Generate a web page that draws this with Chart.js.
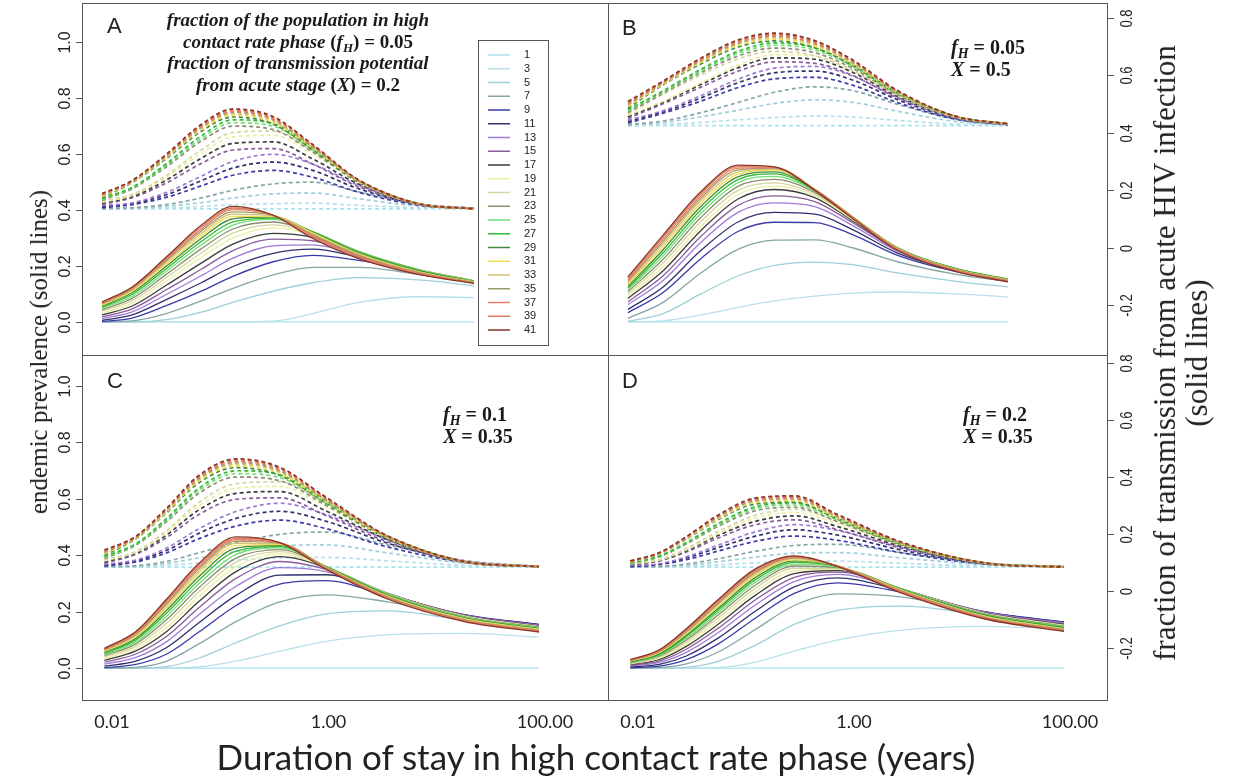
<!DOCTYPE html>
<html>
<head>
<meta charset="utf-8">
<title>Endemic prevalence and acute-stage transmission</title>
<script src="https://cdn.jsdelivr.net/npm/chart.js@4/dist/chart.umd.min.js"></script>
<style>
  body { margin: 0; background: #fff; }
  #wrap { position: relative; width: 1237px; height: 782px; overflow: hidden; }
  #wrap canvas { position: absolute; left: 0; top: 0; }
  .ttl { position: absolute; white-space: nowrap; color: #222; }
  #ylab { left: 39px; top: 352px; font: 25px "Liberation Serif", serif; transform: translate(-50%, -50%) rotate(-90deg); }
  #y2lab { left: 1181px; top: 353px; font: 31px/32px "Liberation Serif", serif; text-align: center; transform: translate(-50%, -50%) rotate(-90deg); }
  #xlab { left: 596px; top: 756px; font: 35px Lato, sans-serif; transform: translate(-50%, -50%); }
</style>
</head>
<body>
<div id="wrap">
  <canvas id="panelA" width="1237" height="782"></canvas>
  <canvas id="panelB" width="1237" height="782"></canvas>
  <canvas id="panelC" width="1237" height="782"></canvas>
  <canvas id="panelD" width="1237" height="782"></canvas>
  <div class="ttl" id="ylab">endemic prevalence (solid lines)</div>
  <div class="ttl" id="y2lab">fraction of transmission from acute HIV infection<br>(solid lines)</div>
  <div class="ttl" id="xlab">Duration of stay in high contact rate phase (years)</div>
</div>
<script>
// durations (years) at which each panel's curves are sampled
const durationsA = [0.0085, 0.018, 0.042, 0.1, 0.22, 0.6, 1.6, 5, 22, 88];
const durationsB = [0.0085, 0.02, 0.05, 0.125, 0.3, 0.8, 2, 6, 25, 88];
const durationsC = [0.0085, 0.0166, 0.032, 0.063, 0.14, 0.355, 0.95, 3.5, 18, 88];
const durationsD = [0.0085, 0.0158, 0.028, 0.056, 0.12, 0.28, 0.71, 2.8, 16, 88];

const seriesLabels = ['1', '3', '5', '7', '9', '11', '13', '15', '17', '19', '21',
  '23', '25', '27', '29', '31', '33', '35', '37', '39', '41'];
const seriesColors = ['#a8e4ee', '#b8e0ea', '#9fcfd8', '#86a6a6', '#3a3aa8', '#30306e',
  '#a07ad8', '#8a5c9a', '#3c3c3c', '#eeeea0', '#d2d6a0', '#8c8c70', '#70e070', '#38b838',
  '#3c8a3c', '#f0e050', '#d8c070', '#9c9c68', '#f07a68', '#d8805a', '#8a3626'];

const leftTicks = [0, 0.2, 0.4, 0.6, 0.8, 1.0];
const rightTicks = [-0.2, 0, 0.2, 0.4, 0.6, 0.8];
const xTicks = [0.01, 1, 100];

// endemic prevalence (solid), one row per series
const prevalenceA = [
  [0, 0, 0, 0, 0, 0, 0, 0, 0, 0],
  [0, 0, 0, 0, 0, 0.003, 0.03, 0.07, 0.09, 0.087],
  [0, 0, 0.008, 0.035, 0.07, 0.11, 0.14, 0.158, 0.15, 0.13],
  [0, 0.004, 0.03, 0.075, 0.12, 0.168, 0.195, 0.195, 0.17, 0.142],
  [0.002, 0.014, 0.058, 0.11, 0.163, 0.215, 0.238, 0.22, 0.18, 0.145],
  [0.006, 0.025, 0.08, 0.14, 0.198, 0.245, 0.26, 0.232, 0.183, 0.146],
  [0.012, 0.036, 0.098, 0.165, 0.228, 0.272, 0.275, 0.238, 0.185, 0.146],
  [0.018, 0.047, 0.115, 0.188, 0.255, 0.296, 0.29, 0.243, 0.186, 0.147],
  [0.025, 0.057, 0.131, 0.21, 0.278, 0.316, 0.302, 0.247, 0.187, 0.147],
  [0.032, 0.067, 0.146, 0.23, 0.3, 0.336, 0.313, 0.25, 0.188, 0.147],
  [0.038, 0.076, 0.158, 0.246, 0.317, 0.347, 0.318, 0.251, 0.188, 0.147],
  [0.044, 0.084, 0.17, 0.261, 0.332, 0.357, 0.321, 0.252, 0.187, 0.146],
  [0.049, 0.092, 0.181, 0.275, 0.346, 0.366, 0.323, 0.251, 0.186, 0.146],
  [0.053, 0.099, 0.19, 0.287, 0.357, 0.371, 0.322, 0.249, 0.184, 0.145],
  [0.057, 0.105, 0.199, 0.298, 0.368, 0.375, 0.32, 0.247, 0.182, 0.144],
  [0.06, 0.11, 0.206, 0.307, 0.377, 0.377, 0.318, 0.244, 0.18, 0.143],
  [0.063, 0.114, 0.213, 0.316, 0.385, 0.379, 0.315, 0.241, 0.178, 0.142],
  [0.065, 0.118, 0.219, 0.324, 0.393, 0.38, 0.311, 0.238, 0.176, 0.141],
  [0.067, 0.121, 0.224, 0.331, 0.401, 0.381, 0.307, 0.234, 0.174, 0.14],
  [0.069, 0.123, 0.228, 0.338, 0.407, 0.381, 0.303, 0.23, 0.172, 0.139],
  [0.071, 0.125, 0.232, 0.345, 0.413, 0.381, 0.298, 0.226, 0.17, 0.138]
];
const prevalenceB = [
  [0, 0, 0, 0, 0, 0, 0, 0, 0, 0],
  [0, 0.004, 0.025, 0.052, 0.075, 0.092, 0.103, 0.107, 0.1, 0.089],
  [0.002, 0.03, 0.1, 0.165, 0.202, 0.214, 0.205, 0.175, 0.145, 0.125],
  [0.013, 0.07, 0.175, 0.26, 0.292, 0.293, 0.265, 0.215, 0.17, 0.145],
  [0.033, 0.105, 0.226, 0.324, 0.356, 0.355, 0.312, 0.238, 0.18, 0.149],
  [0.045, 0.125, 0.255, 0.358, 0.391, 0.385, 0.33, 0.246, 0.183, 0.15],
  [0.062, 0.148, 0.284, 0.392, 0.425, 0.412, 0.345, 0.253, 0.186, 0.151],
  [0.072, 0.165, 0.305, 0.417, 0.45, 0.43, 0.355, 0.257, 0.188, 0.152],
  [0.084, 0.183, 0.326, 0.44, 0.473, 0.444, 0.362, 0.26, 0.189, 0.153],
  [0.092, 0.197, 0.342, 0.456, 0.485, 0.451, 0.366, 0.262, 0.19, 0.153],
  [0.1, 0.211, 0.358, 0.471, 0.497, 0.457, 0.369, 0.263, 0.19, 0.153],
  [0.108, 0.224, 0.373, 0.485, 0.509, 0.463, 0.372, 0.264, 0.19, 0.153],
  [0.115, 0.236, 0.387, 0.498, 0.52, 0.468, 0.374, 0.265, 0.19, 0.153],
  [0.121, 0.247, 0.4, 0.509, 0.529, 0.471, 0.375, 0.265, 0.19, 0.152],
  [0.127, 0.258, 0.412, 0.519, 0.536, 0.473, 0.376, 0.265, 0.189, 0.151],
  [0.133, 0.268, 0.423, 0.528, 0.542, 0.474, 0.376, 0.264, 0.188, 0.15],
  [0.139, 0.278, 0.433, 0.536, 0.546, 0.474, 0.376, 0.263, 0.187, 0.149],
  [0.145, 0.287, 0.442, 0.543, 0.549, 0.474, 0.375, 0.262, 0.186, 0.148],
  [0.15, 0.295, 0.45, 0.549, 0.551, 0.473, 0.374, 0.26, 0.184, 0.147],
  [0.156, 0.303, 0.458, 0.555, 0.553, 0.472, 0.372, 0.258, 0.182, 0.145],
  [0.161, 0.31, 0.465, 0.56, 0.554, 0.47, 0.37, 0.255, 0.18, 0.143]
];
const prevalenceC = [
  [0, 0, 0, 0, 0, 0, 0, 0, 0, 0],
  [0, 0, 0, 0.004, 0.025, 0.06, 0.095, 0.118, 0.123, 0.11],
  [0, 0, 0.005, 0.035, 0.09, 0.15, 0.192, 0.203, 0.17, 0.14],
  [0, 0.003, 0.025, 0.085, 0.165, 0.235, 0.26, 0.235, 0.185, 0.15],
  [0.002, 0.013, 0.05, 0.127, 0.222, 0.298, 0.31, 0.256, 0.19, 0.155],
  [0.007, 0.025, 0.073, 0.16, 0.258, 0.33, 0.331, 0.262, 0.189, 0.154],
  [0.014, 0.038, 0.094, 0.188, 0.29, 0.356, 0.342, 0.264, 0.188, 0.152],
  [0.021, 0.05, 0.113, 0.213, 0.318, 0.378, 0.35, 0.265, 0.187, 0.15],
  [0.028, 0.061, 0.13, 0.235, 0.342, 0.395, 0.356, 0.266, 0.186, 0.148],
  [0.034, 0.07, 0.145, 0.253, 0.36, 0.405, 0.358, 0.265, 0.185, 0.147],
  [0.039, 0.078, 0.159, 0.269, 0.376, 0.413, 0.359, 0.264, 0.183, 0.146],
  [0.044, 0.086, 0.172, 0.284, 0.39, 0.42, 0.36, 0.263, 0.182, 0.145],
  [0.048, 0.093, 0.184, 0.298, 0.403, 0.426, 0.36, 0.262, 0.18, 0.143],
  [0.052, 0.1, 0.195, 0.311, 0.415, 0.431, 0.36, 0.26, 0.178, 0.141],
  [0.056, 0.106, 0.205, 0.323, 0.425, 0.435, 0.359, 0.258, 0.177, 0.14],
  [0.059, 0.111, 0.214, 0.333, 0.434, 0.438, 0.358, 0.256, 0.175, 0.138],
  [0.062, 0.116, 0.222, 0.342, 0.442, 0.441, 0.357, 0.254, 0.173, 0.136],
  [0.064, 0.12, 0.229, 0.35, 0.449, 0.443, 0.356, 0.252, 0.171, 0.134],
  [0.066, 0.124, 0.235, 0.357, 0.455, 0.444, 0.354, 0.25, 0.169, 0.132],
  [0.068, 0.127, 0.24, 0.364, 0.46, 0.445, 0.352, 0.248, 0.167, 0.13],
  [0.07, 0.13, 0.245, 0.37, 0.465, 0.445, 0.35, 0.245, 0.165, 0.128]
];
const prevalenceD = [
  [0, 0, 0, 0, 0, 0, 0, 0, 0, 0],
  [0, 0, 0, 0.002, 0.02, 0.06, 0.1, 0.135, 0.148, 0.138],
  [0, 0, 0.003, 0.025, 0.08, 0.155, 0.205, 0.22, 0.188, 0.158],
  [0, 0.002, 0.015, 0.058, 0.135, 0.222, 0.263, 0.252, 0.197, 0.163],
  [0.001, 0.007, 0.03, 0.087, 0.175, 0.265, 0.302, 0.268, 0.2, 0.164],
  [0.004, 0.013, 0.043, 0.108, 0.2, 0.288, 0.32, 0.274, 0.2, 0.162],
  [0.007, 0.02, 0.056, 0.127, 0.222, 0.307, 0.332, 0.277, 0.199, 0.16],
  [0.01, 0.026, 0.067, 0.143, 0.24, 0.322, 0.34, 0.279, 0.198, 0.157],
  [0.013, 0.031, 0.077, 0.157, 0.256, 0.335, 0.346, 0.28, 0.196, 0.154],
  [0.015, 0.035, 0.085, 0.169, 0.269, 0.345, 0.35, 0.28, 0.195, 0.152],
  [0.017, 0.039, 0.093, 0.18, 0.281, 0.354, 0.353, 0.28, 0.193, 0.15],
  [0.019, 0.043, 0.1, 0.19, 0.292, 0.362, 0.356, 0.28, 0.192, 0.148],
  [0.021, 0.046, 0.106, 0.199, 0.302, 0.369, 0.358, 0.279, 0.19, 0.146],
  [0.022, 0.049, 0.112, 0.207, 0.311, 0.375, 0.36, 0.278, 0.189, 0.144],
  [0.024, 0.052, 0.117, 0.214, 0.319, 0.38, 0.361, 0.277, 0.187, 0.142],
  [0.025, 0.055, 0.122, 0.221, 0.326, 0.384, 0.362, 0.276, 0.185, 0.14],
  [0.026, 0.057, 0.126, 0.227, 0.332, 0.388, 0.362, 0.274, 0.183, 0.138],
  [0.027, 0.059, 0.13, 0.232, 0.337, 0.391, 0.362, 0.272, 0.181, 0.136],
  [0.028, 0.061, 0.134, 0.237, 0.342, 0.394, 0.362, 0.27, 0.179, 0.134],
  [0.029, 0.063, 0.137, 0.241, 0.346, 0.396, 0.361, 0.268, 0.177, 0.132],
  [0.03, 0.065, 0.14, 0.245, 0.35, 0.398, 0.36, 0.265, 0.175, 0.13]
];

// fraction of transmission from acute infection (dashed, right axis)
const acuteA = [
  [0.135, 0.135, 0.135, 0.135, 0.135, 0.135, 0.135, 0.135, 0.135, 0.135],
  [0.135, 0.136, 0.138, 0.143, 0.149, 0.153, 0.155, 0.147, 0.139, 0.135],
  [0.135, 0.137, 0.144, 0.157, 0.173, 0.187, 0.19, 0.17, 0.145, 0.136],
  [0.136, 0.139, 0.15, 0.173, 0.2, 0.222, 0.228, 0.194, 0.152, 0.137],
  [0.139, 0.15, 0.175, 0.215, 0.252, 0.269, 0.245, 0.193, 0.148, 0.136],
  [0.143, 0.153, 0.184, 0.233, 0.277, 0.298, 0.269, 0.205, 0.151, 0.137],
  [0.147, 0.156, 0.192, 0.249, 0.3, 0.325, 0.291, 0.217, 0.154, 0.137],
  [0.151, 0.174, 0.225, 0.293, 0.34, 0.345, 0.291, 0.212, 0.15, 0.135],
  [0.155, 0.178, 0.235, 0.311, 0.363, 0.368, 0.309, 0.221, 0.152, 0.135],
  [0.158, 0.182, 0.245, 0.328, 0.386, 0.391, 0.326, 0.229, 0.153, 0.135],
  [0.162, 0.185, 0.251, 0.34, 0.401, 0.406, 0.337, 0.235, 0.154, 0.135],
  [0.165, 0.205, 0.281, 0.371, 0.423, 0.411, 0.333, 0.228, 0.152, 0.135],
  [0.168, 0.208, 0.287, 0.38, 0.435, 0.423, 0.341, 0.232, 0.153, 0.135],
  [0.171, 0.21, 0.292, 0.389, 0.445, 0.432, 0.348, 0.235, 0.154, 0.135],
  [0.174, 0.226, 0.31, 0.405, 0.455, 0.43, 0.341, 0.228, 0.152, 0.135],
  [0.177, 0.228, 0.314, 0.411, 0.462, 0.436, 0.346, 0.23, 0.152, 0.135],
  [0.18, 0.229, 0.316, 0.416, 0.467, 0.441, 0.349, 0.231, 0.152, 0.135],
  [0.182, 0.231, 0.319, 0.42, 0.472, 0.446, 0.352, 0.233, 0.153, 0.135],
  [0.184, 0.232, 0.321, 0.422, 0.475, 0.448, 0.354, 0.234, 0.153, 0.135],
  [0.186, 0.233, 0.323, 0.426, 0.479, 0.452, 0.357, 0.235, 0.153, 0.135],
  [0.188, 0.234, 0.325, 0.429, 0.483, 0.456, 0.359, 0.236, 0.153, 0.135]
];
const acuteB = [
  [0.425, 0.425, 0.425, 0.425, 0.425, 0.425, 0.425, 0.425, 0.425, 0.425],
  [0.425, 0.429, 0.436, 0.445, 0.453, 0.458, 0.455, 0.443, 0.43, 0.426],
  [0.426, 0.436, 0.455, 0.479, 0.502, 0.515, 0.506, 0.475, 0.439, 0.428],
  [0.429, 0.441, 0.47, 0.506, 0.541, 0.56, 0.547, 0.499, 0.447, 0.429],
  [0.434, 0.468, 0.51, 0.558, 0.588, 0.593, 0.566, 0.505, 0.447, 0.428],
  [0.439, 0.473, 0.521, 0.575, 0.609, 0.615, 0.584, 0.515, 0.45, 0.429],
  [0.444, 0.477, 0.529, 0.587, 0.625, 0.631, 0.598, 0.523, 0.452, 0.429],
  [0.45, 0.501, 0.559, 0.615, 0.647, 0.642, 0.6, 0.521, 0.452, 0.429],
  [0.456, 0.506, 0.568, 0.627, 0.661, 0.656, 0.611, 0.527, 0.454, 0.43],
  [0.461, 0.51, 0.574, 0.637, 0.672, 0.667, 0.619, 0.532, 0.455, 0.43],
  [0.466, 0.534, 0.601, 0.658, 0.684, 0.668, 0.617, 0.529, 0.453, 0.43],
  [0.471, 0.538, 0.609, 0.668, 0.695, 0.679, 0.625, 0.533, 0.455, 0.43],
  [0.476, 0.543, 0.615, 0.677, 0.705, 0.688, 0.632, 0.537, 0.456, 0.431],
  [0.481, 0.546, 0.621, 0.684, 0.713, 0.696, 0.638, 0.54, 0.457, 0.431],
  [0.486, 0.567, 0.64, 0.699, 0.72, 0.696, 0.634, 0.537, 0.455, 0.431],
  [0.491, 0.569, 0.645, 0.705, 0.726, 0.702, 0.639, 0.539, 0.455, 0.431],
  [0.495, 0.572, 0.648, 0.71, 0.731, 0.707, 0.642, 0.541, 0.456, 0.431],
  [0.499, 0.574, 0.652, 0.714, 0.736, 0.711, 0.646, 0.543, 0.456, 0.431],
  [0.503, 0.576, 0.654, 0.717, 0.739, 0.714, 0.648, 0.544, 0.456, 0.431],
  [0.506, 0.578, 0.657, 0.721, 0.743, 0.718, 0.651, 0.546, 0.457, 0.431],
  [0.509, 0.58, 0.66, 0.724, 0.747, 0.721, 0.654, 0.547, 0.457, 0.431]
];
const acuteC = [
  [0.084, 0.084, 0.084, 0.084, 0.084, 0.084, 0.084, 0.084, 0.084, 0.084],
  [0.084, 0.085, 0.09, 0.098, 0.108, 0.116, 0.118, 0.106, 0.09, 0.085],
  [0.085, 0.087, 0.097, 0.116, 0.138, 0.158, 0.162, 0.134, 0.098, 0.086],
  [0.086, 0.089, 0.104, 0.134, 0.169, 0.199, 0.207, 0.162, 0.107, 0.087],
  [0.088, 0.102, 0.134, 0.183, 0.228, 0.249, 0.219, 0.155, 0.101, 0.086],
  [0.091, 0.106, 0.143, 0.202, 0.255, 0.28, 0.245, 0.168, 0.104, 0.086],
  [0.094, 0.109, 0.151, 0.218, 0.279, 0.308, 0.268, 0.18, 0.106, 0.086],
  [0.098, 0.129, 0.188, 0.268, 0.322, 0.327, 0.265, 0.173, 0.101, 0.085],
  [0.102, 0.133, 0.197, 0.284, 0.343, 0.349, 0.281, 0.181, 0.103, 0.085],
  [0.106, 0.136, 0.205, 0.298, 0.361, 0.367, 0.295, 0.188, 0.104, 0.086],
  [0.11, 0.139, 0.212, 0.31, 0.377, 0.383, 0.307, 0.194, 0.105, 0.086],
  [0.114, 0.161, 0.244, 0.342, 0.4, 0.387, 0.301, 0.186, 0.103, 0.086],
  [0.118, 0.163, 0.25, 0.352, 0.412, 0.398, 0.309, 0.19, 0.104, 0.086],
  [0.122, 0.166, 0.255, 0.36, 0.422, 0.408, 0.316, 0.193, 0.104, 0.086],
  [0.126, 0.183, 0.275, 0.379, 0.433, 0.406, 0.309, 0.185, 0.102, 0.086],
  [0.13, 0.185, 0.278, 0.385, 0.44, 0.412, 0.313, 0.187, 0.103, 0.086],
  [0.133, 0.187, 0.282, 0.39, 0.446, 0.418, 0.317, 0.189, 0.103, 0.086],
  [0.136, 0.188, 0.284, 0.394, 0.451, 0.422, 0.32, 0.19, 0.103, 0.086],
  [0.139, 0.19, 0.287, 0.398, 0.456, 0.427, 0.324, 0.192, 0.103, 0.086],
  [0.142, 0.191, 0.289, 0.402, 0.46, 0.431, 0.326, 0.193, 0.104, 0.086],
  [0.144, 0.192, 0.291, 0.405, 0.464, 0.434, 0.329, 0.194, 0.104, 0.086]
];
const acuteD = [
  [0.084, 0.084, 0.084, 0.084, 0.084, 0.084, 0.084, 0.084, 0.084, 0.084],
  [0.084, 0.085, 0.087, 0.092, 0.099, 0.104, 0.105, 0.097, 0.088, 0.084],
  [0.084, 0.086, 0.091, 0.103, 0.119, 0.133, 0.135, 0.116, 0.093, 0.085],
  [0.085, 0.086, 0.095, 0.114, 0.139, 0.16, 0.164, 0.134, 0.098, 0.086],
  [0.086, 0.093, 0.11, 0.141, 0.174, 0.193, 0.178, 0.134, 0.095, 0.085],
  [0.088, 0.095, 0.116, 0.153, 0.192, 0.215, 0.196, 0.143, 0.097, 0.085],
  [0.09, 0.096, 0.12, 0.162, 0.207, 0.233, 0.212, 0.152, 0.099, 0.086],
  [0.092, 0.106, 0.137, 0.187, 0.232, 0.25, 0.215, 0.15, 0.097, 0.086],
  [0.094, 0.107, 0.142, 0.196, 0.244, 0.264, 0.226, 0.156, 0.098, 0.086],
  [0.095, 0.109, 0.145, 0.203, 0.255, 0.276, 0.236, 0.161, 0.099, 0.086],
  [0.096, 0.11, 0.149, 0.21, 0.265, 0.287, 0.244, 0.165, 0.1, 0.086],
  [0.097, 0.12, 0.165, 0.228, 0.281, 0.294, 0.243, 0.16, 0.099, 0.084],
  [0.098, 0.121, 0.168, 0.234, 0.289, 0.302, 0.249, 0.163, 0.099, 0.084],
  [0.099, 0.123, 0.17, 0.238, 0.295, 0.309, 0.254, 0.166, 0.1, 0.084],
  [0.1, 0.131, 0.182, 0.252, 0.305, 0.312, 0.252, 0.163, 0.098, 0.084],
  [0.101, 0.132, 0.184, 0.255, 0.31, 0.317, 0.255, 0.165, 0.098, 0.084],
  [0.102, 0.132, 0.186, 0.258, 0.314, 0.321, 0.258, 0.166, 0.099, 0.084],
  [0.103, 0.133, 0.187, 0.261, 0.318, 0.325, 0.261, 0.168, 0.099, 0.084],
  [0.104, 0.134, 0.189, 0.263, 0.321, 0.328, 0.263, 0.169, 0.099, 0.084],
  [0.105, 0.134, 0.19, 0.265, 0.323, 0.331, 0.265, 0.17, 0.099, 0.084],
  [0.106, 0.135, 0.191, 0.268, 0.326, 0.334, 0.268, 0.171, 0.099, 0.084]
];

const SERIF = '"Liberation Serif", serif';

// rich text: [text, style]  i = bold italic, r = bold upright, s = italic subscript
function drawRich(ctx, segs, x, y, size, align) {
  const fontOf = s => (s === 'r' ? 'bold ' : 'italic bold ') +
    (s === 's' ? Math.round(size * 0.68) : size) + 'px ' + SERIF;
  let w = 0;
  segs.forEach(([t, s]) => { ctx.font = fontOf(s); w += ctx.measureText(t).width; });
  let cx = align === 'center' ? x - w / 2 : x;
  ctx.textAlign = 'left';
  ctx.textBaseline = 'alphabetic';
  segs.forEach(([t, s]) => {
    ctx.font = fontOf(s);
    ctx.fillText(t, cx, s === 's' ? y + size * 0.22 : y);
    cx += ctx.measureText(t).width;
  });
}

const panelFrame = {
  id: 'panelFrame',
  afterDraw(chart, args, o) {
    const { ctx, chartArea: a, scales } = chart;
    ctx.save();
    ctx.strokeStyle = '#555';
    ctx.lineWidth = 1;
    ctx.strokeRect(Math.round(a.left) + 0.5, Math.round(a.top) + 0.5,
      Math.round(a.right - a.left), Math.round(a.bottom - a.top));
    ctx.fillStyle = '#222';

    if (o.left) {
      ctx.font = '16px "Liberation Sans", Arial, sans-serif';
      leftTicks.forEach(v => {
        const y = Math.round(scales.y.getPixelForValue(v)) + 0.5;
        ctx.beginPath(); ctx.moveTo(a.left, y); ctx.lineTo(a.left - 6, y); ctx.stroke();
        ctx.save(); ctx.translate(a.left - 8, y); ctx.rotate(-Math.PI / 2);
        ctx.textAlign = 'center'; ctx.textBaseline = 'bottom';
        ctx.fillText(v.toFixed(1), 0, 0); ctx.restore();
      });
    }
    if (o.right) {
      // condensed labels on the right-hand axis
      ctx.font = '16px "Liberation Sans Narrow", "Liberation Sans", sans-serif';
      rightTicks.forEach(v => {
        const y = Math.round(scales.y2.getPixelForValue(v)) + 0.5;
        ctx.beginPath(); ctx.moveTo(a.right, y); ctx.lineTo(a.right + 7, y); ctx.stroke();
        ctx.save(); ctx.translate(a.right + 13, y); ctx.rotate(-Math.PI / 2); ctx.scale(0.82, 1);
        ctx.textAlign = 'center'; ctx.textBaseline = 'top';
        ctx.fillText(v === 0 ? '0' : String(v), 0, 0); ctx.restore();
      });
    }
    if (o.bottom) {
      ctx.font = '18px Lato, sans-serif';
      ctx.textAlign = 'center'; ctx.textBaseline = 'middle';
      xTicks.forEach(v => {
        ctx.fillText(v.toFixed(2), scales.x.getPixelForValue(v), a.bottom + 22);
      });
    }

    // panel letter
    ctx.font = '22px "Liberation Sans", Arial, sans-serif';
    ctx.textAlign = 'left'; ctx.textBaseline = 'alphabetic';
    ctx.fillText(o.letter[0], a.left + o.letter[1], a.top + o.letter[2]);

    // parameter notes
    ctx.fillStyle = '#1a1a1a';
    o.notes.forEach(n => drawRich(ctx, n.segs, a.left + n.dx, a.top + n.dy, n.size, n.align));

    // legend box with the series colours
    if (o.legend) {
      const lx = a.left + o.legend.dx, ly = a.top + o.legend.dy;
      const w = 70, h = 305;
      ctx.strokeStyle = '#555';
      ctx.strokeRect(Math.round(lx) + 0.5, Math.round(ly) + 0.5, w, h);
      ctx.font = '11px "Liberation Sans", Arial, sans-serif';
      ctx.textBaseline = 'middle';
      const solid = chart.data.datasets.filter(d => !d.borderDash);
      solid.forEach((d, i) => {
        const y = ly + 15 + i * 13.75;
        ctx.strokeStyle = d.borderColor; ctx.lineWidth = 1.5;
        ctx.beginPath(); ctx.moveTo(lx + 10, y); ctx.lineTo(lx + 32, y); ctx.stroke();
        ctx.fillStyle = '#222';
        ctx.fillText(d.label, lx + 46, y);
      });
    }
    ctx.restore();
  }
};

function makePanel(id, p) {
  const datasets = [];
  seriesLabels.forEach((lab, i) => {
    datasets.push({
      label: lab, yAxisID: 'y', borderColor: seriesColors[i], borderWidth: 1.3,
      order: 20 - i,
      data: p.prevalence[i].map((v, j) => ({ x: p.durations[j], y: v }))
    });
  });
  seriesLabels.forEach((lab, i) => {
    datasets.push({
      label: lab, yAxisID: 'y2', borderColor: seriesColors[i], borderWidth: 1.7,
      borderDash: [4, 3], order: 20 - i,
      data: p.acute[i].map((v, j) => ({ x: p.durations[j], y: v }))
    });
  });
  const box = p.box;
  return new Chart(document.getElementById(id), {
    type: 'line',
    data: { datasets },
    options: {
      responsive: false,
      animation: false,
      layout: { padding: { left: box[0], top: box[1], right: 1237 - box[2], bottom: 782 - box[3] } },
      elements: { point: { radius: 0 }, line: { cubicInterpolationMode: 'monotone' } },
      plugins: { legend: { display: false }, tooltip: { enabled: false }, panelFrame: p.frame },
      scales: {
        x: { type: 'logarithmic', display: false, min: p.xRange[0], max: p.xRange[1] },
        y: { display: false, min: p.yRange[0], max: p.yRange[1] },
        y2: { display: false, position: 'right', min: p.y2Range[0], max: p.y2Range[1] }
      }
    },
    plugins: [panelFrame]
  });
}

const topY = [-0.118, 1.139], topY2 = [-0.374, 0.852];
const bottomY = [-0.113, 1.11], bottomY2 = [-0.382, 0.828];

makePanel('panelA', {
  box: [82, 3, 608, 355], xRange: [0.00517, 2460], yRange: topY, y2Range: topY2,
  durations: durationsA, prevalence: prevalenceA, acute: acuteA,
  frame: {
    left: true, letter: ['A', 25, 30], legend: { dx: 396, dy: 37 },
    notes: [
      { dx: 216, dy: 23, size: 19, align: 'center', segs: [['fraction of the population in high', 'i']] },
      { dx: 216, dy: 45, size: 19, align: 'center', segs: [['contact rate phase ', 'i'], ['(', 'r'], ['f', 'i'], ['H', 's'], [') = 0.05', 'r']] },
      { dx: 216, dy: 66, size: 19, align: 'center', segs: [['fraction of transmission potential', 'i']] },
      { dx: 216, dy: 88, size: 19, align: 'center', segs: [['from acute stage ', 'i'], ['(', 'r'], ['X', 'i'], [') = 0.2', 'r']] }
    ]
  }
});
makePanel('panelB', {
  box: [608, 3, 1107, 355], xRange: [0.00523, 979], yRange: topY, y2Range: topY2,
  durations: durationsB, prevalence: prevalenceB, acute: acuteB,
  frame: {
    right: true, letter: ['B', 14, 32],
    notes: [
      { dx: 343, dy: 51, size: 20, segs: [['f', 'i'], ['H', 's'], [' = 0.05', 'r']] },
      { dx: 343, dy: 73, size: 20, segs: [['X', 'i'], [' = 0.5', 'r']] }
    ]
  }
});
makePanel('panelC', {
  box: [82, 355, 608, 700], xRange: [0.00528, 382], yRange: bottomY, y2Range: bottomY2,
  durations: durationsC, prevalence: prevalenceC, acute: acuteC,
  frame: {
    left: true, bottom: true, letter: ['C', 25, 33],
    notes: [
      { dx: 361, dy: 66, size: 20, segs: [['f', 'i'], ['H', 's'], [' = 0.1', 'r']] },
      { dx: 361, dy: 88, size: 20, segs: [['X', 'i'], [' = 0.35', 'r']] }
    ]
  }
});
makePanel('panelD', {
  box: [608, 355, 1107, 700], xRange: [0.005275, 220], yRange: bottomY, y2Range: bottomY2,
  durations: durationsD, prevalence: prevalenceD, acute: acuteD,
  frame: {
    right: true, bottom: true, letter: ['D', 14, 33],
    notes: [
      { dx: 355, dy: 66, size: 20, segs: [['f', 'i'], ['H', 's'], [' = 0.2', 'r']] },
      { dx: 355, dy: 88, size: 20, segs: [['X', 'i'], [' = 0.35', 'r']] }
    ]
  }
});
</script>
</body>
</html>
